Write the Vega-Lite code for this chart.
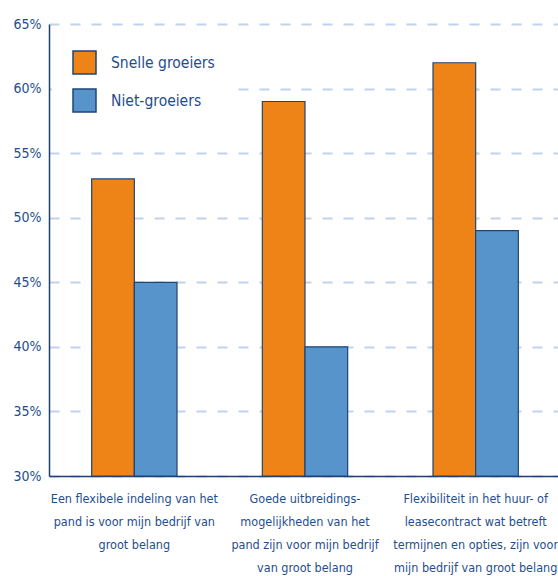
{
  "$schema": "https://vega.github.io/schema/vega-lite/v6.json",
  "autosize": {"type": "none"},
  "width": 512,
  "height": 452,
  "padding": {"left": 49, "top": 24, "right": 0, "bottom": 100},
  "background": "white",
  "config": {
    "view": {"stroke": null},
    "font": "DejaVu Sans Condensed, Liberation Sans, sans-serif",
    "axis": {"labelFont": "DejaVu Sans Condensed, Liberation Sans, sans-serif", "labelColor": "#1f4e8c", "titleColor": "#1f4e8c"}
  },
  "data": {
    "values": [
      {"cat": "Een flexibele indeling van het|pand is voor mijn bedrijf van|groot belang", "groep": "Snelle groeiers", "pct": 53},
      {"cat": "Een flexibele indeling van het|pand is voor mijn bedrijf van|groot belang", "groep": "Niet-groeiers", "pct": 45},
      {"cat": "Goede uitbreidings-|mogelijkheden van het|pand zijn voor mijn bedrijf|van groot belang", "groep": "Snelle groeiers", "pct": 59},
      {"cat": "Goede uitbreidings-|mogelijkheden van het|pand zijn voor mijn bedrijf|van groot belang", "groep": "Niet-groeiers", "pct": 40},
      {"cat": "Flexibiliteit in het huur- of|leasecontract wat betreft|termijnen en opties, zijn voor|mijn bedrijf van groot belang", "groep": "Snelle groeiers", "pct": 62},
      {"cat": "Flexibiliteit in het huur- of|leasecontract wat betreft|termijnen en opties, zijn voor|mijn bedrijf van groot belang", "groep": "Niet-groeiers", "pct": 49}
    ]
  },
  "mark": {"type": "bar", "stroke": "#1f4476", "strokeWidth": 1.2, "opacity": 1},
  "encoding": {
    "x": {
      "field": "cat", "type": "nominal", "sort": null,
      "scale": {"paddingInner": 0.5, "paddingOuter": 0.25},
      "axis": {
        "title": null, "labelAngle": 0, "ticks": false,
        "domainColor": "#1f3f73", "domainWidth": 1.5,
        "labelExpr": "split(datum.label, '|')",
        "labelFontSize": 12.5, "labelLineHeight": 23, "labelPadding": 16,
        "labelLimit": 0, "labelAlign": "center", "labelBaseline": "top"
      }
    },
    "xOffset": {
      "field": "groep", "type": "nominal",
      "sort": ["Snelle groeiers", "Niet-groeiers"],
      "scale": {"paddingInner": 0, "paddingOuter": 0}
    },
    "y": {
      "field": "pct", "type": "quantitative",
      "scale": {"domain": [30, 65], "nice": false, "zero": false},
      "axis": {
        "title": null, "values": [30, 35, 40, 45, 50, 55, 60, 65],
        "labelExpr": "datum.value + '%'", "labelFontSize": 14, "labelPadding": 8,
        "ticks": false, "domainColor": "#1f3f73", "domainWidth": 1.5,
        "grid": true, "gridColor": "#c0d2ee", "gridDash": [10, 11], "gridWidth": 1.8
      }
    },
    "y2": {"datum": 30},
    "color": {
      "field": "groep", "type": "nominal",
      "scale": {"domain": ["Snelle groeiers", "Niet-groeiers"], "range": ["#ee8418", "#5894cc"]},
      "legend": {
        "title": null, "orient": "none", "legendX": 3, "legendY": 6,
        "padding": 20, "fillColor": "white", "strokeColor": null,
        "symbolType": "square", "symbolSize": 529, "symbolStrokeColor": "#1f4476",
        "symbolStrokeWidth": 1.5, "symbolOpacity": 1,
        "labelFontSize": 15.5, "labelColor": "#1f4e8c", "labelFont": "DejaVu Sans Condensed, Liberation Sans, sans-serif",
        "labelOffset": 14, "rowPadding": 9, "labelLimit": 0
      }
    }
  }
}
